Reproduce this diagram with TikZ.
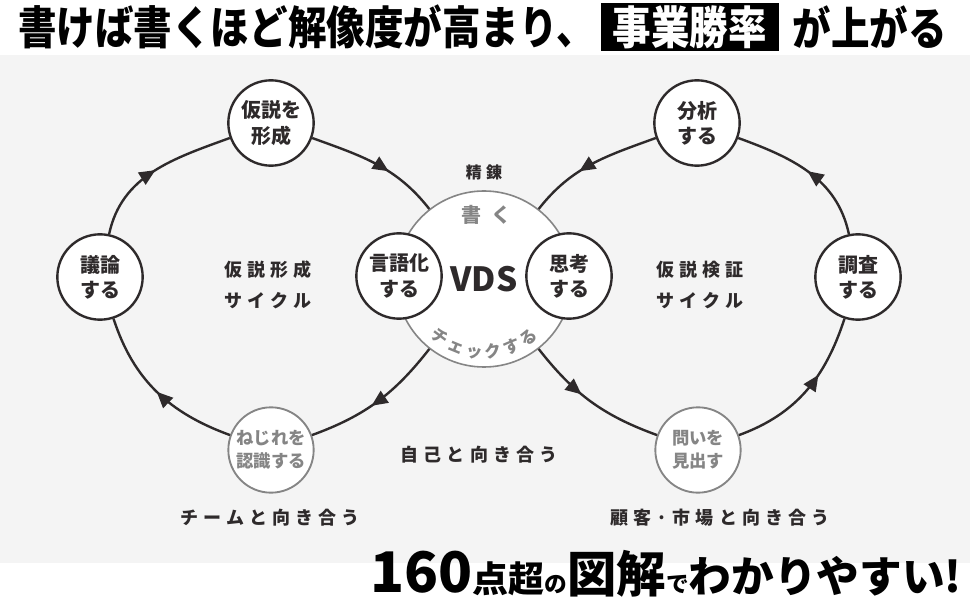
\documentclass[tikz,border=0pt]{standalone}
\usepackage{fontspec}
\setmainfont{Noto Sans CJK JP}
\newfontfamily\jpsp[LetterSpace=28]{Noto Sans CJK JP}
\newfontfamily\jpwide[LetterSpace=50]{Noto Sans CJK JP}
\usetikzlibrary{positioning,arrows.meta,decorations.markings,decorations.text}
\definecolor{ink}{HTML}{2E2A2B}
\definecolor{pale}{HTML}{F4F4F4}
\definecolor{mute}{HTML}{858585}

\tikzset{
  stepnode/.style={circle, draw=ink, line width=1.8pt, fill=white, minimum size=64pt,
    inner sep=0pt, align=center, text=ink, font=\bfseries\fontsize{15}{19}\selectfont},
  softnode/.style={stepnode, draw=mute, line width=1.4pt, text=mute,
    font=\bfseries\fontsize{13}{17}\selectfont},
  flow/.style={draw=ink, line width=1.8pt, postaction={decorate},
    decoration={markings, mark=at position #1 with {\arrow{Triangle[length=12pt,width=10.5pt]}}}},
  flow/.default=0.5,
  caption/.style={text=ink, align=center, font=\jpsp\bfseries\fontsize{13.5}{23}\selectfont},
  headline/.style={inner sep=0pt, text=black, font=\bfseries\fontsize{34}{34}\selectfont},
}

\begin{document}
\begin{tikzpicture}[x=0.75pt, y=0.75pt]
\useasboundingbox (0,0) rectangle (970,600);
\fill[pale] (0,37) rectangle (970,545);

% title
\node[headline, anchor=west] (head) at (18,573) {\scalebox{0.85}[1]{書けば書くほど解像度が高まり、}};
\node[headline, right=4pt of head, fill=black, text=white, inner xsep=9pt, inner ysep=2pt] (boxed) {\scalebox{0.85}[1]{事業勝率}};
\node[headline, right=10pt of boxed] (tail) {\scalebox{0.85}[1]{が上がる}};

% circles
\node[stepnode] (hyp) at (271,477) {仮説を\\形成};
\node[stepnode] (disc) at (100,323) {議論\\する};
\node[softnode] (twist) at (271,150) {ねじれを\\認識する};
\node[circle, draw=mute, line width=1.2pt, fill=white, minimum size=132pt, text=ink,
  font=\bfseries\fontsize{25}{25}\selectfont] (vds) at (484,321) {VDS};
\node[stepnode] (lang) at (399,324) {言語化\\する};
\node[stepnode] (think) at (569,324) {思考\\する};
\node[stepnode] (analyze) at (697,477) {分析\\する};
\node[stepnode] (survey) at (858,323) {調査\\する};
\node[softnode] (ask) at (698,150) {問いを\\見出す};

% loops
\draw[flow] (disc) to[out=78,in=200] (hyp);
\draw[flow=0.6] (hyp) to[out=-20,in=128] (vds);
\draw[flow=0.55] (vds) to[out=232,in=20] (twist);
\draw[flow] (twist) to[out=160,in=-72] (disc);
\draw[flow=0.42] (vds) to[out=-52,in=160] (ask);
\draw[flow=0.62] (ask) to[out=20,in=-108] (survey);
\draw[flow] (survey) to[out=102,in=-20] (analyze);
\draw[flow=0.6] (analyze) to[out=200,in=52] (vds);

% texts round VDS
\node[text=ink, font=\jpsp\bfseries\fontsize{12}{12}\selectfont] (refine) at (484,428) {精錬};
\node[text=mute, font=\jpwide\bfseries\fontsize{15}{15}\selectfont] (write) at (486,385) {書く};
\coordinate (chkstart) at ([shift={(-140:79)}]vds.center);
\path[decorate, decoration={text along path, text align=center,
  text={|\bfseries\fontsize{12.5}{12.5}\selectfont\color{mute}|チ ェ ッ ク す る}}]
  (chkstart) arc[start angle=-140, end angle=-40, radius=79];

% captions
\node[caption] (leftcycle) at (268,315) {仮説形成\\サイクル};
\node[caption] (rightcycle) at (700,315) {仮説検証\\サイクル};
\node[caption] (self) at (479,145) {自己と向き合う};
\node[caption] (team) at (270,82) {チームと向き合う};
\node[caption] (market) at (720,82) {顧客·市場と向き合う};

% bottom line
\node[anchor=base east, inner sep=0pt, text=black, font=\bfseries] (promo) at (962,8)
  {{\fontsize{42}{42}\selectfont 160}{\fontsize{27}{27}\selectfont 点超}{\fontsize{17}{17}\selectfont の}{\fontsize{37}{37}\selectfont 図解}{\fontsize{17}{17}\selectfont で}{\fontsize{32}{32}\selectfont わかりやすい!}};
\end{tikzpicture}
\end{document}
